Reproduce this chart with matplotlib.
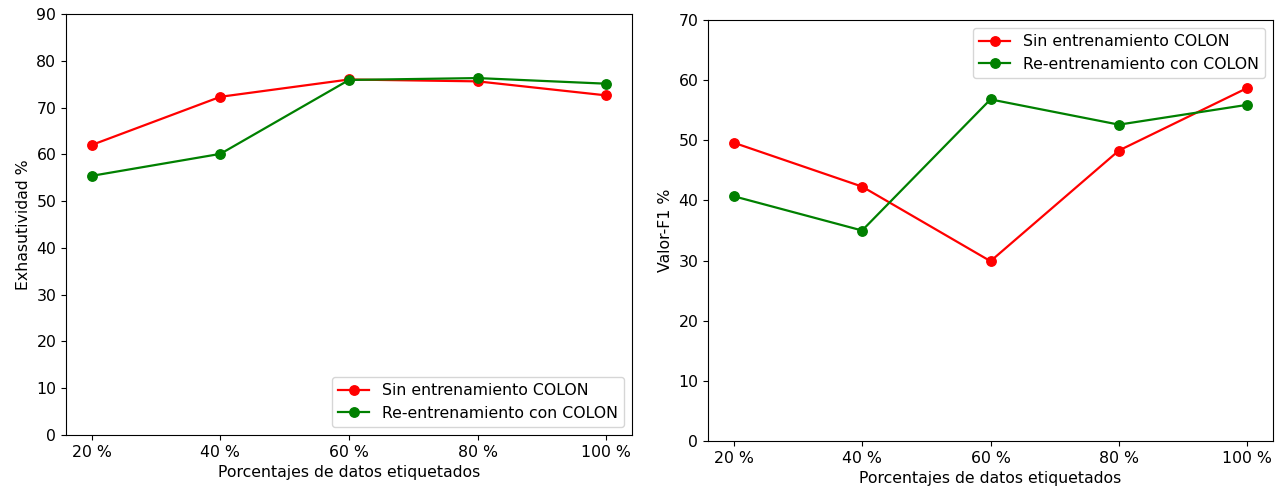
import matplotlib
matplotlib.use("Agg")
import matplotlib.pyplot as plt

plt.rcParams["font.size"] = 11.3

categories = ["20 %", "40 %", "60 %", "80 %", "100 %"]
recall_sin = [62.0, 72.3, 76.0, 75.6, 72.6]
recall_re = [55.4, 60.1, 75.9, 76.3, 75.1]
f1_sin = [49.6, 42.3, 29.9, 48.3, 58.7]
f1_re = [40.7, 35.0, 56.8, 52.6, 55.9]
label_sin = "Sin entrenamiento COLON"
label_re = "Re-entrenamiento con COLON"

fig = plt.figure(figsize=(12.8, 4.91), dpi=100)
ax1 = fig.add_axes([66/1280, 1-435/491, (632-66)/1280, (435-14)/491])
ax2 = fig.add_axes([708/1280, 1-441/491, (1273-708)/1280, (441-20)/491])

x = range(len(categories))
kw = dict(marker="o", markersize=6.8, linewidth=1.6)
ax1.plot(x, recall_sin, color="red", label=label_sin, **kw)
ax1.plot(x, recall_re, color="green", label=label_re, **kw)
ax1.set_ylim(0, 90)
ax1.set_xticks(list(x))
ax1.set_xticklabels(categories)
ax1.set_xlabel("Porcentajes de datos etiquetados")
ax1.set_ylabel("Exhasutividad %")
ax1.legend(loc="lower right")

ax2.plot(x, f1_sin, color="red", label=label_sin, **kw)
ax2.plot(x, f1_re, color="green", label=label_re, **kw)
ax2.set_ylim(0, 70)
ax2.set_xticks(list(x))
ax2.set_xticklabels(categories)
ax2.set_xlabel("Porcentajes de datos etiquetados")
ax2.set_ylabel("Valor-F1 %")
ax2.legend(loc="upper right")

fig.savefig("out.png", dpi=100)
